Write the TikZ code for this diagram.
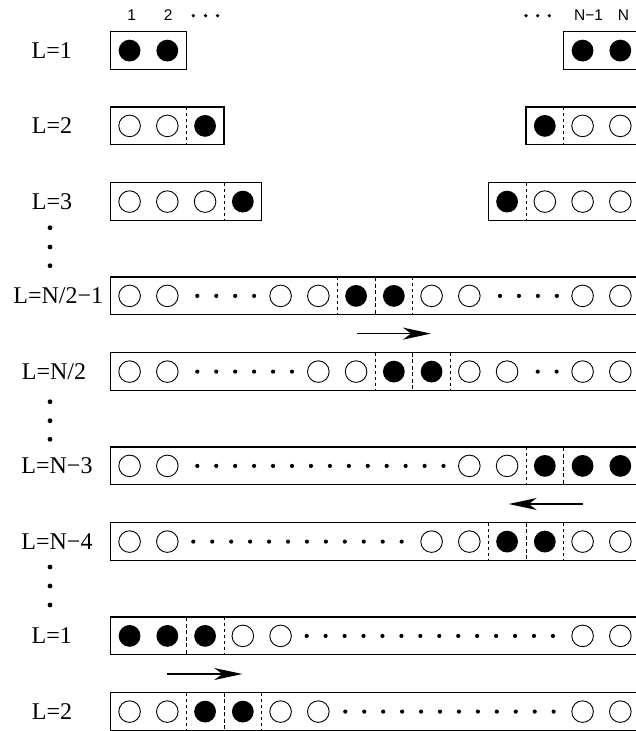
\documentclass[tikz,border=0pt]{standalone}
\usepackage{fontspec}
\setmainfont{Liberation Serif}
\newfontfamily\numfont{Liberation Sans}
\usetikzlibrary{arrows.meta}
\newcommand\cx[1]{110.7+37.75*(#1-0.5)}
\newcommand\mkW[2]{\draw[opencirc] ({\cx{#1}},#2) circle[radius=10.8];}
\newcommand\mkB[2]{\fill ({\cx{#1}},#2) circle[radius=10.9];}
\newcommand\mkD[2]{\draw[cellsep,dashed] ({110.7+37.75*#1},#2-18.9) -- ++(0,37.8);}
\newcommand\mkS[2]{\draw[cellsep] ({110.7+37.75*#1},#2-18.9) -- ++(0,37.8);}
\newcommand\mkBox[3]{\draw[rowbox] ({110.7+37.75*(#1-1)},#3-18.9) rectangle ({110.7+37.75*#2},#3+18.9);}
\newcommand\mkDots[3]{\foreach \k in {1,...,#2}{\fill ({#1+18.94*(\k-1)},#3) circle[radius=2.1];}}
\begin{document}
\begin{tikzpicture}[x=1pt,y=-1pt,
  rowbox/.style={line width=1.1pt},
  opencirc/.style={line width=0.9pt},
  cellsep/.style={line width=0.9pt,dash pattern=on 4pt off 2.5pt},
  lab/.style={font=\fontsize{24}{28}\selectfont,anchor=base,inner sep=0pt},
  toplab/.style={font=\numfont\fontsize{15.5}{18}\selectfont,anchor=base,inner sep=0pt},
  move/.style={line width=1.3pt,-{Stealth[length=28pt,width=12pt,inset=8pt]}}]
\clip (0,0) rectangle (636,731);
% top labels
\node[toplab] (n1) at (131.7,20) {1};
\node[toplab] (n2) at (168.3,20) {2};
\node[toplab] (nN1) at (588.5,20) {N−1};
\node[toplab] (nN) at (623.5,20) {N};
\foreach \x in {193.3,205.5,217.5,526,537.7,549.3}{\fill (\x,15.7) circle[radius=1.8];}
% row labels
\node[lab] (l1) at (51.7,58.5) {L=1};
\node[lab] (l2) at (52,133.8) {L=2};
\node[lab] (l3) at (52,209.5) {L=3};
\node[lab] (l4) at (58.3,303.8) {L=N/2−1};
\node[lab] (l5) at (54,379.5) {L=N/2};
\node[lab] (l6) at (57,473.8) {L=N−3};
\node[lab] (l7) at (57,549.5) {L=N−4};
\node[lab] (l8) at (51.7,643.8) {L=1};
\node[lab] (l9) at (52,719.5) {L=2};
% vertical ellipses
\foreach \y in {227.7,247,265.7,401.7,420.7,439.3,567,586,605}{\fill (50,\y) circle[radius=2.4];}
% row 1
\def\y{50.6}
\mkBox{1}{2}{\y}\mkB{1}{\y}\mkB{2}{\y}
\mkBox{13}{14}{\y}\mkB{13}{\y}\mkB{14}{\y}
% row 2
\def\y{125.9}
\mkBox{1}{3}{\y}\mkW{1}{\y}\mkW{2}{\y}\mkD{2}{\y}\mkB{3}{\y}
\mkBox{12}{14}{\y}\mkB{12}{\y}\mkD{12}{\y}\mkW{13}{\y}\mkW{14}{\y}
% row 3
\def\y{201.6}
\mkBox{1}{4}{\y}\mkW{1}{\y}\mkW{2}{\y}\mkW{3}{\y}\mkD{3}{\y}\mkB{4}{\y}
\mkBox{11}{14}{\y}\mkB{11}{\y}\mkD{11}{\y}\mkW{12}{\y}\mkW{13}{\y}\mkW{14}{\y}
% row N/2-1
\def\y{295.9}
\mkBox{1}{14}{\y}\mkW{1}{\y}\mkW{2}{\y}\mkDots{197.3}{4}{\y}\mkW{5}{\y}\mkW{6}{\y}\mkD{6}{\y}
\mkB{7}{\y}\mkS{7}{\y}\mkB{8}{\y}\mkD{8}{\y}\mkW{9}{\y}\mkW{10}{\y}\mkDots{500}{4}{\y}\mkW{13}{\y}\mkW{14}{\y}
\coordinate (a1s) at (356.7,333.6);
\coordinate (a1e) at (431,333.6);
\draw[move] (a1s) -- (a1e);
% row N/2
\def\y{371.6}
\mkBox{1}{14}{\y}\mkW{1}{\y}\mkW{2}{\y}\mkDots{197.3}{6}{\y}\mkW{6}{\y}\mkW{7}{\y}\mkD{7}{\y}
\mkB{8}{\y}\mkS{8}{\y}\mkB{9}{\y}\mkD{9}{\y}\mkW{10}{\y}\mkW{11}{\y}\mkDots{537.7}{2}{\y}\mkW{13}{\y}\mkW{14}{\y}
% row N-3
\def\y{465.9}
\mkBox{1}{14}{\y}\mkW{1}{\y}\mkW{2}{\y}\mkDots{197.3}{14}{\y}\mkW{10}{\y}\mkW{11}{\y}\mkD{11}{\y}
\mkB{12}{\y}\mkS{12}{\y}\mkB{13}{\y}\mkB{14}{\y}
\coordinate (a2s) at (582.7,504);
\coordinate (a2e) at (508.7,504);
\draw[move] (a2s) -- (a2e);
% row N-4
\def\y{541.6}
\mkBox{1}{14}{\y}\mkW{1}{\y}\mkW{2}{\y}\mkDots{193.3}{12}{\y}\mkW{9}{\y}\mkW{10}{\y}\mkD{10}{\y}
\mkB{11}{\y}\mkS{11}{\y}\mkB{12}{\y}\mkD{12}{\y}\mkW{13}{\y}\mkW{14}{\y}
% row L=1 (bottom)
\def\y{635.9}
\mkBox{1}{14}{\y}\mkB{1}{\y}\mkB{2}{\y}\mkS{2}{\y}\mkB{3}{\y}\mkD{3}{\y}\mkW{4}{\y}\mkW{5}{\y}
\mkDots{306.7}{14}{\y}\mkW{13}{\y}\mkW{14}{\y}
\coordinate (a3s) at (167.3,674);
\coordinate (a3e) at (242.3,674);
\draw[move] (a3s) -- (a3e);
% row L=2 (bottom)
\def\y{711.6}
\mkBox{1}{14}{\y}\mkW{1}{\y}\mkW{2}{\y}\mkD{2}{\y}\mkB{3}{\y}\mkS{3}{\y}\mkB{4}{\y}\mkD{4}{\y}
\mkW{5}{\y}\mkW{6}{\y}\mkDots{345.3}{12}{\y}\mkW{13}{\y}\mkW{14}{\y}
\end{tikzpicture}
\end{document}
